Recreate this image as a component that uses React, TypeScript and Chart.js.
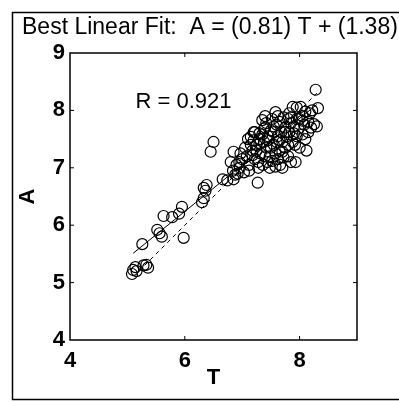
import { useEffect, useRef } from "react";
import { Chart, registerables } from "chart.js";

Chart.register(...registerables);

// Labels
const titleText = "Best Linear Fit:  A = (0.81) T + (1.38)";
const rLabel = "R = 0.921";
const rLabelAt = [5.14, 8.15];

// Fit coefficients and line extents
const fitSlope = 0.81;
const fitIntercept = 1.38;
const fitRange = [5.1, 8.3];
const identityRange = [5.3, 8.3];

// Axis ranges and ticks
const axisMin = 4;
const axisMax = 9;
const xLabelled = [4, 6, 8];
const xInnerTicks = [6, 8];
const yInnerTicks = [5, 6, 7, 8];

// Scatter samples: T (x) and A (y)
const tValues = [
  5.10, 5.14, 5.08, 5.16, 5.28, 5.36, 5.33,
  5.26,
  5.52, 5.60, 5.56,
  5.63, 5.78, 5.95, 5.90,
  5.98,
  6.30, 6.33, 6.33, 6.38, 6.36,
  6.45, 6.50,
  6.66, 6.74,
  6.85, 6.88, 6.84, 6.92,
  6.80, 6.85, 6.95, 6.97, 6.90, 6.96,
  7.00, 7.05, 7.10, 7.15, 7.20, 7.08, 7.12, 7.18, 7.22,
  7.27,
  7.25, 7.30, 7.35, 7.40, 7.28, 7.32, 7.38, 7.42, 7.45, 7.48,
  7.50, 7.36, 7.44, 7.55, 7.58, 7.60, 7.62, 7.65, 7.52, 7.68,
  7.70, 7.72, 7.75, 7.78, 7.80, 7.66, 7.82, 7.85, 7.88, 7.90,
  7.92, 7.95, 7.98, 8.02, 8.05, 8.08, 8.10, 8.12, 8.15, 8.18,
  8.20, 8.25, 8.28, 8.32, 8.30, 7.40, 7.58, 7.62, 7.70, 7.48,
  7.85, 7.93, 8.00, 7.12, 7.03, 7.55, 7.75, 7.65, 7.88, 8.05,
  7.22, 7.30, 8.22, 7.95, 7.80,
  7.15, 7.25, 7.35, 7.45, 7.55, 7.65, 7.75, 7.85, 7.95, 8.05,
  8.15, 7.20, 7.30, 7.40, 7.50, 7.60, 7.70, 7.80, 7.90, 8.00,
  8.10, 7.42, 7.52, 7.62, 7.72, 7.82, 7.18, 7.28, 7.38, 7.58,
];
const aValues = [
  5.22, 5.27, 5.15, 5.20, 5.30, 5.26, 5.31,
  5.67,
  5.92, 5.80, 5.86,
  6.16, 6.14, 6.32, 6.20,
  5.78,
  6.40, 6.47, 6.65, 6.70, 6.60,
  7.28, 7.45,
  6.80, 6.78,
  6.80, 6.88, 6.95, 6.90,
  7.10, 7.28, 7.10, 7.25, 7.05, 7.00,
  7.15, 7.35, 7.50, 7.54, 7.48, 7.20, 7.05, 7.30, 7.15,
  6.74,
  7.40, 7.60, 7.83, 7.70, 7.10, 7.25, 7.45, 7.35, 7.55, 7.20,
  7.65, 7.05, 7.10, 7.40, 7.97, 7.75, 7.55, 7.30, 7.85, 7.62,
  7.45, 7.88, 7.70, 7.55, 7.20, 7.05, 7.95, 7.78, 8.06, 7.60,
  7.40, 7.85, 7.68, 8.06, 7.90, 7.75, 7.50, 7.30, 7.80, 7.95,
  7.70, 7.76, 8.36, 8.04, 7.72, 7.90, 7.25, 7.15, 7.00, 7.00,
  7.10, 7.10, 7.35, 6.95, 6.92, 7.62, 7.35, 7.80, 7.45, 7.58,
  7.62, 7.42, 8.00, 8.05, 7.85,
  7.40, 7.30, 7.58, 7.48, 7.72, 7.48, 7.62, 7.88, 7.55, 7.82,
  7.62, 7.62, 7.50, 7.20, 7.35, 7.45, 7.28, 7.40, 7.72, 7.85,
  7.98, 7.78, 7.12, 7.90, 7.18, 7.62, 7.22, 7.00, 7.68, 7.02,
];

const FONT = "'Liberation Sans', Arial, Helvetica, sans-serif";

// Outer frame, plot box, inward tick marks and the R annotation
const decorations = {
  id: "decorations",
  beforeDraw(chart: any) {
    const { ctx, width, height } = chart;
    ctx.save();
    ctx.fillStyle = "#ffffff";
    ctx.fillRect(0, 0, width, height);
    ctx.strokeStyle = "#000";
    ctx.lineWidth = 1.5;
    ctx.strokeRect(12.5, 12.5, width + 10, height - 15);
    ctx.restore();
  },
  afterDraw(chart: any) {
    const { ctx, chartArea: a, scales } = chart;
    const x = scales.x;
    const y = scales.y;
    ctx.save();
    ctx.strokeStyle = "#000";
    ctx.lineWidth = 1.5;
    ctx.strokeRect(a.left, a.top, a.right - a.left, a.bottom - a.top);
    ctx.lineWidth = 1;
    const len = 4;
    ctx.beginPath();
    for (const v of yInnerTicks) {
      const py = y.getPixelForValue(v);
      ctx.moveTo(a.left, py);
      ctx.lineTo(a.left + len, py);
      ctx.moveTo(a.right, py);
      ctx.lineTo(a.right - len, py);
    }
    for (const v of xInnerTicks) {
      const px = x.getPixelForValue(v);
      ctx.moveTo(px, a.bottom);
      ctx.lineTo(px, a.bottom - len);
      ctx.moveTo(px, a.top);
      ctx.lineTo(px, a.top + len);
    }
    ctx.stroke();
    ctx.fillStyle = "#000";
    ctx.font = `22px ${FONT}`;
    ctx.textAlign = "left";
    ctx.textBaseline = "middle";
    ctx.fillText(rLabel, x.getPixelForValue(rLabelAt[0]), y.getPixelForValue(rLabelAt[1]));
    ctx.restore();
  },
};

export default function App() {
  const canvasRef = useRef<HTMLCanvasElement | null>(null);

  useEffect(() => {
    const canvas = canvasRef.current;
    if (!canvas) return;

    const points = tValues.map((t, i) => ({ x: t, y: aValues[i] }));
    const fitLine = fitRange.map((t) => ({ x: t, y: fitSlope * t + fitIntercept }));
    const identityLine = identityRange.map((t) => ({ x: t, y: t }));

    const chart = new Chart(canvas, {
      type: "scatter",
      data: {
        datasets: [
          {
            type: "line",
            data: identityLine,
            borderColor: "#000",
            borderWidth: 1,
            borderDash: [4, 4],
            pointRadius: 0,
            fill: false,
          },
          {
            type: "line",
            data: fitLine,
            borderColor: "#000",
            borderWidth: 1,
            pointRadius: 0,
            fill: false,
          },
          {
            data: points,
            pointStyle: "circle",
            pointRadius: 5.5,
            borderWidth: 1.2,
            borderColor: "#000",
            backgroundColor: "rgba(0,0,0,0)",
          },
        ],
      },
      options: {
        animation: false,
        responsive: true,
        maintainAspectRatio: false,
        layout: { padding: { left: 22, right: 0, top: 0, bottom: 0 } },
        plugins: {
          legend: { display: false },
          tooltip: { enabled: false },
          title: {
            display: true,
            text: titleText,
            align: "start",
            color: "#000",
            font: { family: FONT, size: 23, weight: "normal", lineHeight: 1.2 },
            padding: { top: 14, bottom: 11.4 },
          },
        },
        scales: {
          x: {
            type: "linear",
            min: axisMin,
            max: axisMax,
            grid: { display: false, drawTicks: false },
            border: { display: false },
            ticks: {
              stepSize: 1,
              padding: 8,
              color: "#000",
              font: { family: FONT, size: 22, weight: "bold" },
              maxRotation: 0,
              autoSkip: false,
              callback: (v: any) => (xLabelled.includes(Number(v)) ? String(v) : ""),
            },
            title: {
              display: true,
              text: "T",
              color: "#000",
              font: { family: FONT, size: 22, weight: "bold", lineHeight: 1.2 },
              padding: { top: 0, bottom: 11 },
            },
            afterFit: (s: any) => {
              s.height = 62;
            },
          },
          y: {
            type: "linear",
            min: axisMin,
            max: axisMax,
            grid: { display: false, drawTicks: false },
            border: { display: false },
            ticks: {
              stepSize: 1,
              padding: 5,
              color: "#000",
              font: { family: FONT, size: 22, weight: "bold" },
              autoSkip: false,
            },
            title: {
              display: true,
              text: "A",
              color: "#000",
              font: { family: FONT, size: 22, weight: "bold", lineHeight: "11px" },
              padding: { top: 0, bottom: 0 },
            },
            afterFit: (s: any) => {
              s.width = 48;
            },
          },
          yRight: {
            type: "linear",
            position: "right",
            min: axisMin,
            max: axisMax,
            display: true,
            grid: { display: false, drawTicks: false },
            border: { display: false },
            ticks: { display: false },
            afterFit: (s: any) => {
              s.width = 42;
            },
          },
        },
      },
      plugins: [decorations],
    });

    return () => chart.destroy();
  }, []);

  return (
    <div style={{ position: "fixed", left: 0, top: 0, width: 399, height: 402 }}>
      <canvas ref={canvasRef} />
    </div>
  );
}
